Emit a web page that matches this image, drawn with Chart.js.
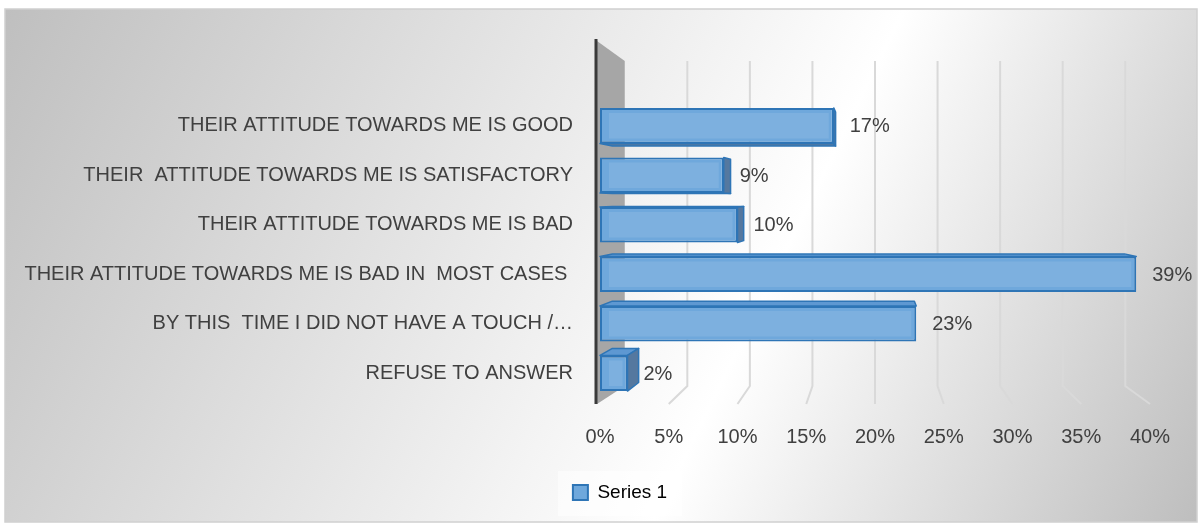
<!DOCTYPE html>
<html>
<head>
<meta charset="utf-8">
<script src="https://cdn.jsdelivr.net/npm/chart.js@4/dist/chart.umd.min.js"></script>
<style>
  html, body { margin: 0; padding: 0; background: #fff; }
  canvas { display: block; }
</style>
</head>
<body>
<canvas id="chart" width="1203" height="527"></canvas>
<script>
'use strict';

// ── Data ──────────────────────────────────────────────────────────
const categories = [
  'THEIR ATTITUDE TOWARDS ME IS GOOD',
  'THEIR  ATTITUDE TOWARDS ME IS SATISFACTORY',
  'THEIR ATTITUDE TOWARDS ME IS BAD',
  'THEIR ATTITUDE TOWARDS ME IS BAD IN  MOST CASES ',
  'BY THIS  TIME I DID NOT HAVE A TOUCH /…',
  'REFUSE TO ANSWER',
];
const seriesName = 'Series 1';
const values = [17, 9, 10, 39, 23, 2];
const xTicks = [0, 5, 10, 15, 20, 25, 30, 35, 40];

// ── Styles ────────────────────────────────────────────────────────
const TEXT   = '#404040';
const FONT   = "'Liberation Sans', Arial, sans-serif";
const FRONT  = '#6FA8DC';
const EDGE   = '#2E75B6';
const SIDE   = '#55789F';
const TOPF   = '#5E98D2';
const GRID   = '#D9D9D9';
const WALL   = '#A6A6A6';
const DEPTH  = 0.09;   // back wall shrink
const BAR_K  = 0.045;  // bar depth shrink
const LEGEND_SHIFT = 45;

// ── Background panel with diagonal gradient ───────────────────────
const panelPlugin = {
  id: 'panel',
  afterLayout(chart) {
    // legend sits a bit right of the canvas centre
    const lg = chart.legend;
    if (!lg) return;
    lg.left += LEGEND_SHIFT;
    lg.right += LEGEND_SHIFT;
  },
  beforeDraw(chart) {
    const { ctx } = chart;
    const x0 = 5, y0 = 9, x1 = 1197, y1 = 522;
    ctx.save();
    const g = ctx.createLinearGradient(x0, y0, x0 + 1170, y0 + 573);
    g.addColorStop(0, '#BFBFBF');
    g.addColorStop(0.62, '#FFFFFF');
    g.addColorStop(1, '#BDBDBD');
    ctx.fillStyle = g;
    ctx.fillRect(x0, y0, x1 - x0, y1 - y0);
    ctx.strokeStyle = '#D0D0D0';
    ctx.lineWidth = 1.5;
    ctx.strokeRect(x0, y0, x1 - x0, y1 - y0);

    // light box behind the legend
    const lg = chart.legend;
    if (lg) {
      const cx = (lg.left + lg.right) / 2;
      ctx.fillStyle = 'rgba(255,255,255,0.55)';
      ctx.fillRect(cx - 62, lg.top - 2, 124, 45);
    }
    ctx.restore();
  },
};

// ── 3D frame: back gridlines + left wall ──────────────────────────
function frame(chart) {
  const a = chart.chartArea;
  const xs = chart.scales.x;
  const vx = xs.getPixelForValue(20);
  return {
    vx,
    fTop: a.top - 60, bTop: a.top - 40,
    fBot: a.bottom + 6, bBot: a.bottom - 12,
    back: px => vx + (px - vx) * (1 - DEPTH),
  };
}

const wallPlugin = {
  id: 'wall3d',
  beforeDatasetsDraw(chart) {
    const { ctx } = chart;
    const xs = chart.scales.x;
    const f = frame(chart);
    ctx.save();

    // gridlines (back plane, then slanting to the front)
    ctx.strokeStyle = GRID;
    ctx.lineWidth = 2;
    xTicks.slice(1).forEach(v => {
      const fx = xs.getPixelForValue(v);
      const bx = f.back(fx);
      ctx.beginPath();
      ctx.moveTo(bx, f.bTop);
      ctx.lineTo(bx, f.bBot);
      ctx.lineTo(fx, f.fBot);
      ctx.stroke();
    });

    // left wall
    const fx0 = xs.getPixelForValue(0) - 3;
    const bx0 = f.back(xs.getPixelForValue(0));
    ctx.fillStyle = WALL;
    ctx.beginPath();
    ctx.moveTo(fx0, f.fTop);
    ctx.lineTo(bx0, f.bTop);
    ctx.lineTo(bx0, f.bBot);
    ctx.lineTo(fx0, f.fBot);
    ctx.closePath();
    ctx.fill();

    ctx.strokeStyle = '#3A3A3A';
    ctx.lineWidth = 3;
    ctx.beginPath();
    ctx.moveTo(fx0 - 1, f.fTop - 2);
    ctx.lineTo(fx0 - 1, f.fBot);
    ctx.stroke();
    ctx.restore();
  },

  // ── bar depth faces + value labels ──
  afterDatasetsDraw(chart) {
    const { ctx } = chart;
    const f = frame(chart);
    const vy = 200;
    const meta = chart.getDatasetMeta(0);
    ctx.save();
    ctx.lineWidth = 1.5;
    ctx.strokeStyle = EDGE;
    ctx.lineJoin = 'round';

    const bk = (x, y) => [x + (f.vx - x) * BAR_K, y + (vy - y) * BAR_K];
    const poly = (pts, fill) => {
      ctx.beginPath();
      pts.forEach(([x, y], i) => (i ? ctx.lineTo(x, y) : ctx.moveTo(x, y)));
      ctx.closePath();
      ctx.fillStyle = fill;
      ctx.fill();
      ctx.stroke();
    };

    meta.data.forEach((bar, i) => {
      const p = bar.getProps(['x', 'y', 'base', 'height'], true);
      const xL = p.base, xR = p.x;
      const yT = p.y - p.height / 2, yB = p.y + p.height / 2;
      const tl = bk(xL, yT), tr = bk(xR, yT), bl = bk(xL, yB), br = bk(xR, yB);

      if (yT > vy) poly([[xL, yT], [xR, yT], tr, tl], TOPF);
      if (yB < vy) poly([[xL, yB], [xR, yB], br, bl], SIDE);
      if (xR < f.vx) poly([[xR, yT], tr, br, [xR, yB]], SIDE);

      // lighter inner face
      ctx.fillStyle = 'rgba(255,255,255,0.10)';
      ctx.fillRect(xL + 9, yT + 5, Math.max(0, xR - xL - 14), yB - yT - 10);

      // value label
      ctx.fillStyle = TEXT;
      ctx.font = `20px ${FONT}`;
      ctx.textAlign = 'left';
      ctx.textBaseline = 'middle';
      ctx.fillText(values[i] + '%', xR + 16, p.y + 1);
    });
    ctx.restore();
  },
};

// ── Chart ─────────────────────────────────────────────────────────
Chart.defaults.font.family = FONT;
Chart.defaults.color = TEXT;

new Chart(document.getElementById('chart'), {
  type: 'bar',
  data: {
    labels: categories,
    datasets: [{
      label: seriesName,
      data: values,
      backgroundColor: FRONT,
      borderColor: EDGE,
      borderWidth: 2,
      borderSkipped: false,
    }],
  },
  options: {
    indexAxis: 'y',
    responsive: false,
    animation: false,
    layout: { padding: { top: 101, right: 53, bottom: 15, left: 0 } },
    scales: {
      x: {
        min: 0, max: 40,
        afterFit: s => { s.height = 75; },
        afterBuildTicks: s => { s.ticks = xTicks.map(v => ({ value: v })); },
        grid: { display: false, drawTicks: false },
        border: { display: false },
        ticks: { padding: 27, color: TEXT, font: { size: 20 }, callback: v => v + '%' },
      },
      y: {
        afterFit: s => { s.width = 600; },
        grid: { display: false, drawTicks: false },
        border: { display: false },
        ticks: { padding: 27, color: TEXT, font: { size: 20 }, autoSkip: false },
      },
    },
    plugins: {
      legend: {
        display: true,
        position: 'bottom',
        labels: {
          boxWidth: 15, boxHeight: 15,
          color: TEXT, font: { size: 19 },
          generateLabels: () => [{
            text: seriesName, fillStyle: FRONT, strokeStyle: EDGE,
            lineWidth: 2, hidden: false, datasetIndex: 0,
          }],
        },
      },
      tooltip: { enabled: false },
    },
  },
  plugins: [panelPlugin, wallPlugin],
});
</script>
</body>
</html>
